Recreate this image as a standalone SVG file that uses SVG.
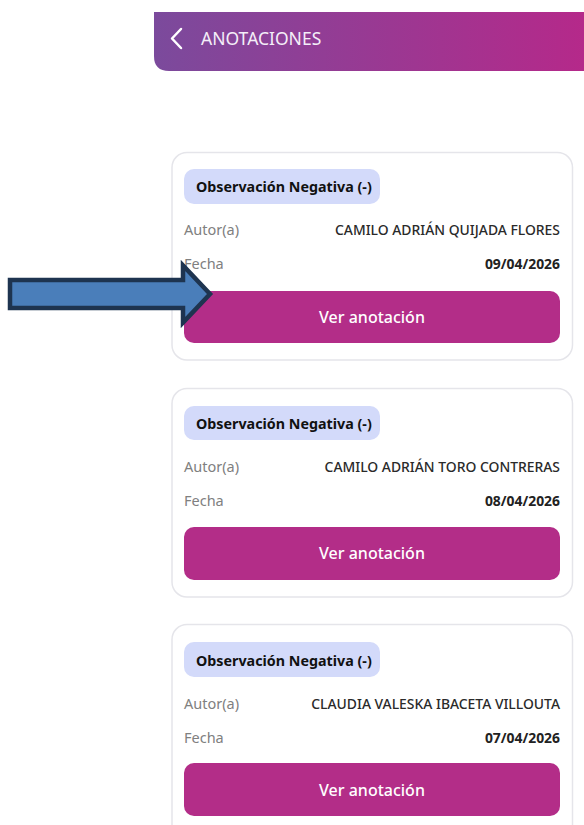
<svg xmlns="http://www.w3.org/2000/svg" width="584" height="825" viewBox="0 0 584 825">
<style>
.card{fill:#ffffff;stroke:#e5e5ea;stroke-width:1.5}
.badge{fill:#d3dafa}
.btn{fill:#b32d88}
.bt{font-family:"Noto Sans","Open Sans",sans-serif;font-weight:700;font-size:14.3px;fill:#111111}
.lbl{font-family:"Noto Sans","Open Sans",sans-serif;font-size:14.5px;fill:#808080}
.val{font-family:"Noto Sans","Open Sans",sans-serif;font-weight:500;font-size:13.9px;fill:#2a2a2a;text-anchor:end}
.date{font-family:"Noto Sans","Open Sans",sans-serif;font-weight:700;font-size:13.9px;fill:#222222;text-anchor:end}
.btnt{font-family:"Noto Sans","Open Sans",sans-serif;font-weight:500;font-size:16px;fill:#ffffff;text-anchor:middle}
</style>
<defs>
<linearGradient id="hdr" x1="0" y1="0" x2="1" y2="0">
<stop offset="0" stop-color="#7b4a9c"/>
<stop offset="1" stop-color="#b5298a"/>
</linearGradient>
</defs>
<rect width="584" height="825" fill="#ffffff"/>
<g id="header">
<path d="M154 12 H584 V71 H169 Q154 71 154 56 Z" fill="url(#hdr)"/>
<path d="M181 29 L172 38.5 L181 48" fill="none" stroke="#ffffff" stroke-width="2.5" stroke-linecap="round" stroke-linejoin="round"/>
<text x="201" y="45" font-family="'Noto Sans','Open Sans',sans-serif" font-size="17.5" fill="#f4eef8">ANOTACIONES</text>
</g>
<g id="card1">
<rect class="card" x="172" y="152.5" width="400.5" height="207.5" rx="15"/>
<rect class="badge" x="184" y="169" width="196" height="35" rx="10"/>
<text class="bt" x="196" y="192">Observación Negativa (-)</text>
<text class="lbl" x="184" y="235">Autor(a)</text>
<text class="val" x="560" y="235">CAMILO ADRIÁN QUIJADA FLORES</text>
<text class="lbl" x="184" y="269">Fecha</text>
<text class="date" x="560" y="269">09/04/2026</text>
<rect class="btn" x="184" y="291" width="376" height="52" rx="10"/>
<text class="btnt" x="372" y="323">Ver anotación</text>
</g>
<g id="card2">
<rect class="card" x="172" y="388.5" width="400.5" height="208.5" rx="15"/>
<rect class="badge" x="184" y="406" width="196" height="34" rx="10"/>
<text class="bt" x="196" y="429">Observación Negativa (-)</text>
<text class="lbl" x="184" y="472">Autor(a)</text>
<text class="val" x="560" y="472">CAMILO ADRIÁN TORO CONTRERAS</text>
<text class="lbl" x="184" y="506">Fecha</text>
<text class="date" x="560" y="506">08/04/2026</text>
<rect class="btn" x="184" y="527" width="376" height="53" rx="10"/>
<text class="btnt" x="372" y="559">Ver anotación</text>
</g>
<g id="card3">
<rect class="card" x="172" y="624.5" width="400.5" height="215" rx="15"/>
<rect class="badge" x="184" y="642" width="196" height="35" rx="10"/>
<text class="bt" x="196" y="666">Observación Negativa (-)</text>
<text class="lbl" x="184" y="709">Autor(a)</text>
<text class="val" x="560" y="709">CLAUDIA VALESKA IBACETA VILLOUTA</text>
<text class="lbl" x="184" y="743">Fecha</text>
<text class="date" x="560" y="743">07/04/2026</text>
<rect class="btn" x="184" y="763" width="376" height="53" rx="10"/>
<text class="btnt" x="372" y="796">Ver anotación</text>
</g>
<g id="connectors">
<polygon points="10,280 183,280 183,265.5 210,294 183,322.5 183,308 10,308" fill="#4a7eba" stroke="#1e3450" stroke-width="4.5" stroke-linejoin="miter"/>
</g>
</svg>
